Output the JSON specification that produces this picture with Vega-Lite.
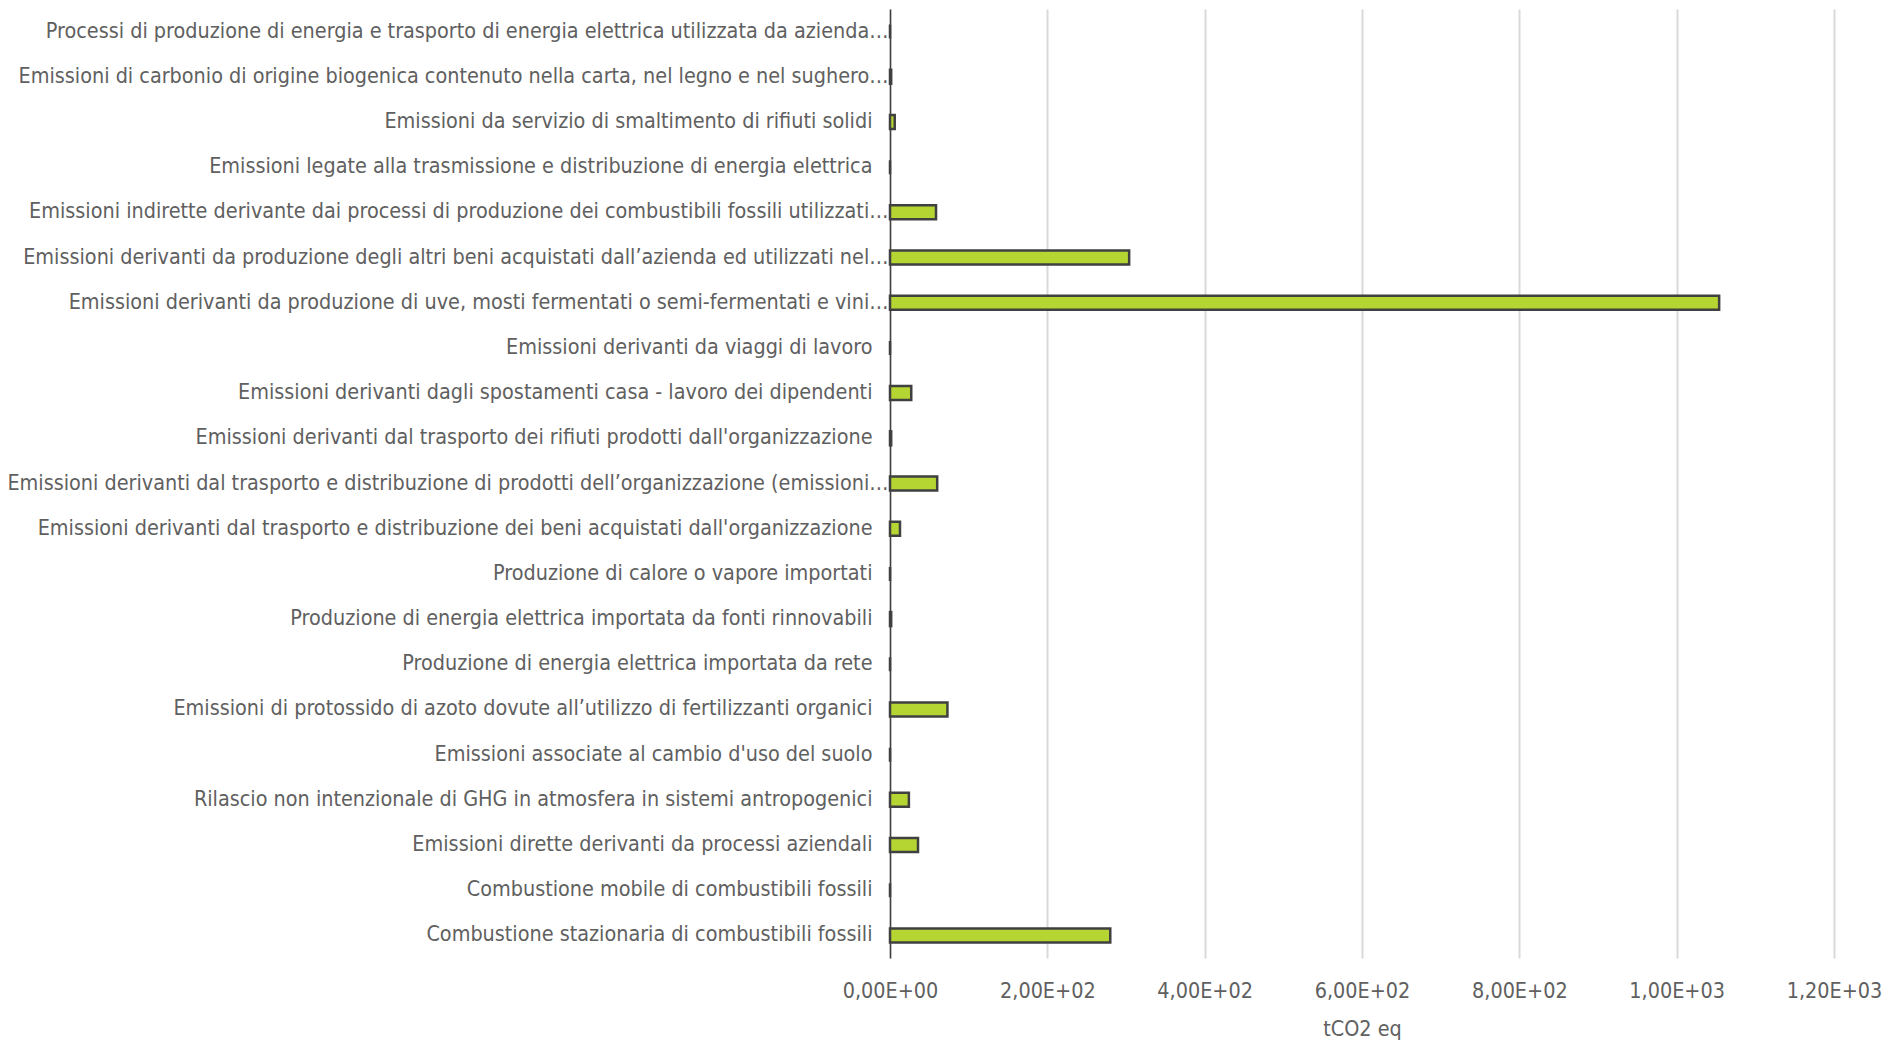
{
  "$schema": "https://vega.github.io/schema/vega-lite/v6.json",
  "autosize": {"type": "none"},
  "padding": {"left": 890, "top": 9, "right": 51, "bottom": 84},
  "width": 944,
  "height": 949,
  "background": "white",
  "data": {
    "values": [
      {"voce": "Processi di produzione di energia e trasporto di energia elettrica utilizzata da azienda…", "tco2": 0},
      {"voce": "Emissioni di carbonio di origine biogenica contenuto nella carta, nel legno  e nel sughero…", "tco2": 1.5},
      {"voce": "Emissioni da servizio di smaltimento di rifiuti solidi", "tco2": 6},
      {"voce": "Emissioni legate alla trasmissione e distribuzione  di energia elettrica", "tco2": 0},
      {"voce": "Emissioni indirette derivante dai processi di produzione dei combustibili fossili utilizzati…", "tco2": 58.5},
      {"voce": "Emissioni derivanti da produzione degli altri beni acquistati dall’azienda ed utilizzati nel…", "tco2": 304},
      {"voce": "Emissioni derivanti da produzione di uve, mosti fermentati o semi-fermentati e vini…", "tco2": 1054},
      {"voce": "Emissioni derivanti da viaggi di lavoro", "tco2": 0},
      {"voce": "Emissioni derivanti dagli spostamenti casa - lavoro dei dipendenti", "tco2": 27},
      {"voce": "Emissioni derivanti dal trasporto dei rifiuti prodotti dall'organizzazione", "tco2": 1.5},
      {"voce": "Emissioni derivanti dal trasporto e distribuzione di prodotti dell’organizzazione (emissioni…", "tco2": 60},
      {"voce": "Emissioni derivanti dal trasporto e distribuzione dei beni acquistati dall'organizzazione", "tco2": 12.7},
      {"voce": "Produzione di calore o vapore importati", "tco2": 0},
      {"voce": "Produzione di energia elettrica importata da fonti rinnovabili", "tco2": 1.5},
      {"voce": "Produzione di energia elettrica importata da rete", "tco2": 0},
      {"voce": "Emissioni di protossido di azoto dovute all’utilizzo di fertilizzanti organici", "tco2": 73},
      {"voce": "Emissioni associate al cambio d'uso del suolo", "tco2": 0},
      {"voce": "Rilascio non intenzionale di GHG in atmosfera in sistemi antropogenici", "tco2": 24},
      {"voce": "Emissioni dirette derivanti da processi aziendali", "tco2": 35.6},
      {"voce": "Combustione mobile di combustibili fossili", "tco2": 0},
      {"voce": "Combustione stazionaria di combustibili fossili", "tco2": 280}
    ]
  },
  "mark": {
    "type": "bar",
    "fill": "#B5D533",
    "stroke": "#404040",
    "strokeWidth": 2.5
  },
  "encoding": {
    "y": {
      "field": "voce",
      "type": "nominal",
      "sort": null,
      "scale": {"paddingInner": 0.69, "paddingOuter": 0.345},
      "axis": {
        "title": null,
        "ticks": false,
        "grid": false,
        "domain": true,
        "domainColor": "#404040",
        "domainWidth": 1.5,
        "labelFont": "Liberation Sans Narrow, DejaVu Sans Condensed, sans-serif",
        "labelFontSize": 21.4,
        "labelColor": "#606060",
        "labelPadding": {
          "condition": {"test": "indexof(datum.value, '…') >= 0", "value": 2},
          "value": 18
        },
        "labelLimit": 0
      }
    },
    "x": {
      "field": "tco2",
      "type": "quantitative",
      "scale": {"domain": [0, 1200], "nice": false},
      "axis": {
        "title": "tCO2 eq",
        "values": [0, 200, 400, 600, 800, 1000, 1200],
        "labelExpr": "datum.value == 0 ? '0,00E+00' : replace(format(datum.value / pow(10, floor(log(datum.value) / LN10 + 1e-9)), '.2f'), '.', ',') + 'E+0' + floor(log(datum.value) / LN10 + 1e-9)",
        "ticks": false,
        "domain": false,
        "grid": true,
        "gridColor": "#D9D9D9",
        "gridWidth": 2,
        "labelFont": "Liberation Sans Narrow, DejaVu Sans Condensed, sans-serif",
        "labelFontSize": 21.4,
        "labelColor": "#606060",
        "labelPadding": 22,
        "labelFlush": false,
        "titleFont": "Liberation Sans Narrow, DejaVu Sans Condensed, sans-serif",
        "titleFontSize": 21.4,
        "titleFontWeight": "normal",
        "titleColor": "#606060",
        "titlePadding": 17
      }
    }
  },
  "config": {
    "view": {"stroke": null}
  }
}
